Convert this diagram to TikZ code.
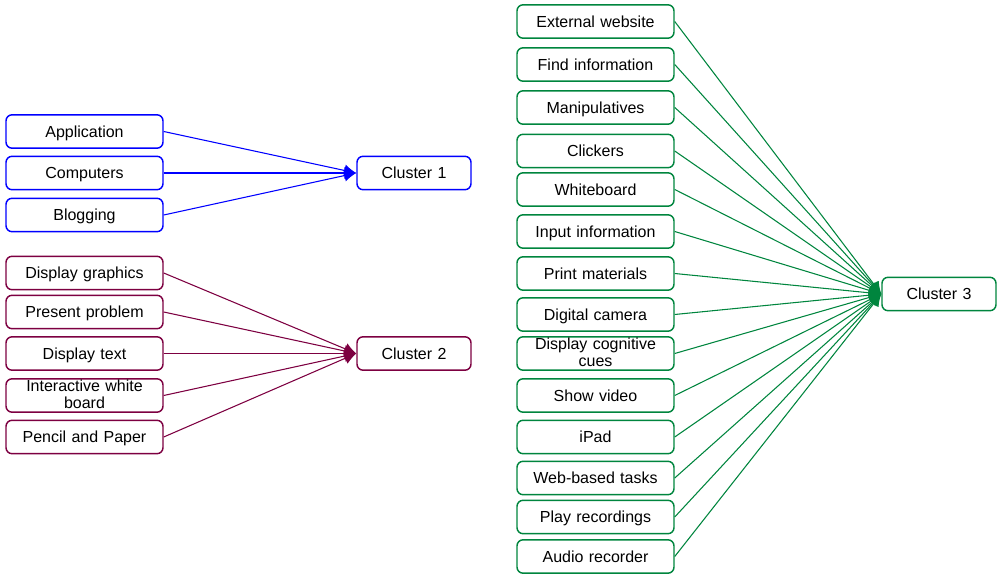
\documentclass[tikz,border=0pt]{standalone}
\usepackage{fontspec}
\setmainfont{Liberation Sans}
\usetikzlibrary{arrows.meta}
\definecolor{cblue}{RGB}{0,0,255}
\definecolor{cmaroon}{RGB}{125,0,65}
\definecolor{cgreen}{RGB}{0,133,62}
\begin{document}
\begin{tikzpicture}[x=0.75pt,y=-0.75pt,
  box/.style={draw, rounded corners=4.5pt, line width=1.1pt, minimum width=117.75pt, minimum height=25pt, inner sep=1pt, font=\fontsize{12}{12.75}\selectfont, align=center, text width=114pt, text height=8.6pt, text depth=0pt},
  twoline/.style={text height=0pt, text depth=5.6pt},
  cbox/.style={box, minimum width=85.5pt, text width=82pt},
  edge/.style={line width=0.8pt, -{Latex[length=9pt,width=9pt]}}]
\useasboundingbox (0,0) rectangle (997,574);
% cluster 1
\begin{scope}[every node/.append style={draw=cblue}]
\node[box] (a1) at (84.5,131.5) {Application};
\node[box] (a2) at (84.5,173) {Computers};
\node[box] (a3) at (84.5,215) {Blogging};
\node[cbox] (c1) at (414,173) {Cluster 1};
\end{scope}
\foreach \n in {a1,a2,a3} \draw[edge,cblue] (\n.east) -- (c1.west);
% cluster 2
\begin{scope}[every node/.append style={draw=cmaroon}]
\node[box] (b1) at (84.5,273) {Display graphics};
\node[box] (b2) at (84.5,312) {Present problem};
\node[box] (b3) at (84.5,353.5) {Display text};
\node[box,twoline] (b4) at (84.5,395.5) {Interactive white\\board};
\node[box] (b5) at (84.5,437) {Pencil and Paper};
\node[cbox] (c2) at (414,353.5) {Cluster 2};
\end{scope}
\foreach \n in {b1,b2,b3,b4,b5} \draw[edge,cmaroon] (\n.east) -- (c2.west);
% cluster 3
\begin{scope}[every node/.append style={draw=cgreen}]
\node[box] (g1) at (595.5,21.5) {External website};
\node[box] (g2) at (595.5,64.5) {Find information};
\node[box] (g3) at (595.5,107.5) {Manipulatives};
\node[box] (g4) at (595.5,151) {Clickers};
\node[box] (g5) at (595.5,189.5) {Whiteboard};
\node[box] (g6) at (595.5,231.5) {Input information};
\node[box] (g7) at (595.5,273.5) {Print materials};
\node[box] (g8) at (595.5,314.5) {Digital camera};
\node[box,twoline] (g9) at (595.5,353.5) {Display cognitive\\cues};
\node[box] (g10) at (595.5,395.5) {Show video};
\node[box] (g11) at (595.5,437) {iPad};
\node[box] (g12) at (595.5,478) {Web-based tasks};
\node[box] (g13) at (595.5,517) {Play recordings};
\node[box] (g14) at (595.5,556.5) {Audio recorder};
\node[cbox] (c3) at (939,294) {Cluster 3};
\end{scope}
\foreach \n in {g1,g2,g3,g4,g5,g6,g7,g8,g9,g10,g11,g12,g13,g14} \draw[edge,cgreen] (\n.east) -- (c3.west);
\end{tikzpicture}
\end{document}
